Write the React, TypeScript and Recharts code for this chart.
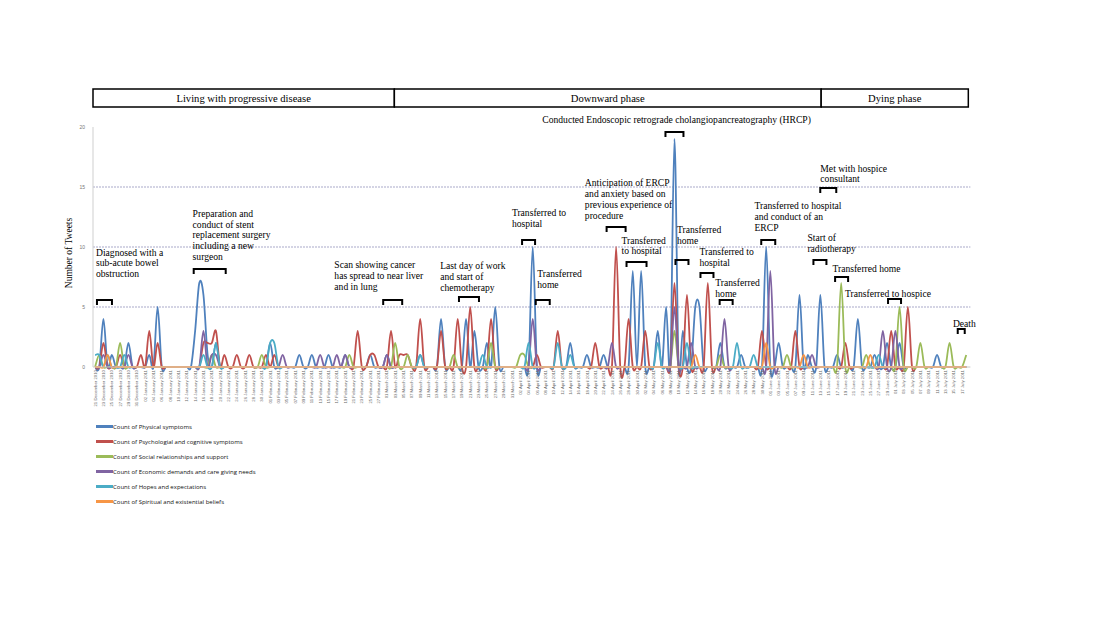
import React from 'react';
import { LineChart, Line, XAxis, YAxis, ReferenceLine, ReferenceArea, ReferenceDot, Legend } from 'recharts';

// ---- categories (one per day) ----
const MONTH_SPANS: [string, number, number, number][] = [
  ['December', 2010, 21, 31],
  ['January', 2011, 1, 31],
  ['February', 2011, 1, 28],
  ['March', 2011, 1, 31],
  ['April', 2011, 1, 30],
  ['May', 2011, 1, 31],
  ['June', 2011, 1, 30],
  ['July', 2011, 1, 18],
];
const DATES: string[] = [];
MONTH_SPANS.forEach(([m, y, a, b]) => {
  for (let d = a; d <= b; d++) DATES.push(`${d < 10 ? '0' + d : d} ${m} ${y}`);
});

// ---- series values: [day index, count]; all other days are 0 ----
const PHYSICAL: [number, number][] = [
  [2, 4], [4, 1], [8, 2], [13, 1], [15, 5], [24, 3], [25, 7], [26, 6], [27, 1], [29, 2], [42, 2], [49, 1], [52, 1],
  [56, 1], [60, 1], [66, 1], [70, 1], [78, 1], [83, 4], [89, 4], [91, 3], [94, 2], [96, 5], [105, 10], [114, 2],
  [118, 1], [122, 1], [129, 8], [131, 8], [135, 3], [137, 5], [139, 19], [141, 3], [144, 5], [145, 5], [150, 2],
  [155, 1], [161, 10], [164, 2], [169, 6], [171, 1], [174, 6], [178, 1], [183, 4], [187, 1], [190, 2], [193, 2], [202, 1],
];
const PSYCHOLOGICAL: [number, number][] = [
  [2, 2], [6, 1], [11, 1], [13, 3], [15, 2], [26, 2], [27, 2], [28, 2], [29, 3], [31, 1], [34, 1], [37, 1], [41, 1],
  [43, 1], [63, 3], [66, 1], [67, 1], [71, 3], [73, 1], [74, 1], [75, 1], [78, 4], [83, 3], [87, 4], [90, 5], [95, 4],
  [106, 1], [111, 3], [120, 2], [125, 10], [128, 4], [132, 3], [139, 7], [142, 6], [147, 7], [160, 3], [168, 3],
  [180, 2], [191, 3], [195, 5],
];
const SOCIAL: [number, number][] = [
  [1, 1], [6, 2], [28, 1], [40, 1], [61, 1], [72, 2], [75, 1], [86, 1], [95, 2], [102, 1], [103, 1], [139, 3],
  [150, 1], [166, 1], [179, 7], [185, 1], [193, 5], [198, 2], [205, 2], [209, 1],
];
const ECONOMIC: [number, number][] = [
  [2, 1], [8, 1], [26, 3], [28, 1], [29, 1], [45, 1], [54, 1], [58, 1], [60, 1], [70, 1], [105, 4], [124, 2],
  [139, 5], [143, 2], [151, 4], [162, 8], [172, 1], [189, 3], [192, 3],
];
const HOPES: [number, number][] = [
  [0, 1], [1, 1], [3, 1], [7, 1], [26, 1], [29, 2], [42, 2], [43, 2], [78, 1], [93, 1], [104, 2], [111, 2],
  [114, 1], [135, 2], [142, 2], [154, 2], [158, 1], [188, 1],
];
const SPIRITUAL: [number, number][] = [[3, 1], [144, 1], [161, 2], [170, 1], [186, 1]];

const SERIES = [
  { key: 'physical', name: 'Count of Physical symptoms', color: '#4F81BD', pairs: PHYSICAL },
  { key: 'psychological', name: 'Count of Psychologial and cognitive symptoms', color: '#C0504D', pairs: PSYCHOLOGICAL },
  { key: 'social', name: 'Count of Social relationships and support', color: '#9BBB59', pairs: SOCIAL },
  { key: 'economic', name: 'Count of Economic demands and care giving needs', color: '#8064A2', pairs: ECONOMIC },
  { key: 'hopes', name: 'Count of Hopes and expectations', color: '#4BACC6', pairs: HOPES },
  { key: 'spiritual', name: 'Count of Spiritual and existential beliefs', color: '#F79646', pairs: SPIRITUAL },
];

const Y_TICKS = [0, 5, 10, 15, 20];
const GRID_VALUES = [5, 10, 15];

const PHASES: { label: string; from: number; to: number }[] = [
  { label: 'Living with progressive disease', from: -0.5, to: 71.8 },
  { label: 'Downward phase', from: 71.8, to: 174.2 },
  { label: 'Dying phase', from: 174.2, to: 209.5 },
];

// event annotations: bracket centre (day, value) and text anchor (day, value)
const EVENTS: { bx: number; by: number; bw: number; tx: number; ty: number; lines: string[] }[] = [
  { bx: 2.25, by: 5.58, bw: 15, tx: 0.22, ty: 9.29, lines: ['Diagnosed with a', 'sub-acute bowel', 'obstruction'] },
  { bx: 27.5, by: 8.17, bw: 32, tx: 23.4, ty: 12.52, lines: ['Preparation and', 'conduct of stent', 'replacement surgery', 'including a new', 'surgeon'] },
  { bx: 71.4, by: 5.58, bw: 19, tx: 57.4, ty: 8.21, lines: ['Scan showing cancer', 'has spread to near liver', 'and in lung'] },
  { bx: 89.7, by: 5.83, bw: 20, tx: 82.8, ty: 8.15, lines: ['Last day of work', 'and start of', 'chemotherapy'] },
  { bx: 104.0, by: 10.58, bw: 13, tx: 100.0, ty: 12.6, lines: ['Transferred to', 'hospital'] },
  { bx: 107.4, by: 5.58, bw: 14, tx: 106.1, ty: 7.46, lines: ['Transferred', 'home'] },
  { bx: 125.0, by: 11.67, bw: 19, tx: 117.5, ty: 15.07, lines: ['Anticipation of ERCP', 'and anxiety based on', 'previous experience of', 'procedure'] },
  { bx: 129.9, by: 8.75, bw: 20, tx: 126.3, ty: 10.29, lines: ['Transferred', 'to hospital'] },
  { bx: 139.0, by: 19.58, bw: 18, tx: 107.3, ty: 20.35, lines: ['Conducted Endoscopic retrograde cholangiopancreatography (HRCP)'] },
  { bx: 140.8, by: 8.92, bw: 13, tx: 139.6, ty: 11.18, lines: ['Transferred', 'home'] },
  { bx: 146.8, by: 7.83, bw: 13, tx: 145.0, ty: 9.32, lines: ['Transferred to', 'hospital'] },
  { bx: 151.4, by: 5.58, bw: 13, tx: 148.8, ty: 6.73, lines: ['Transferred', 'home'] },
  { bx: 161.5, by: 10.58, bw: 14, tx: 158.2, ty: 13.13, lines: ['Transferred to hospital', 'and conduct of an', 'ERCP'] },
  { bx: 175.9, by: 14.92, bw: 16, tx: 174.0, ty: 16.29, lines: ['Met with hospice', 'consultant'] },
  { bx: 173.9, by: 8.92, bw: 13, tx: 170.9, ty: 10.52, lines: ['Start of', 'radiotherapy'] },
  { bx: 179.1, by: 7.5, bw: 13, tx: 176.9, ty: 7.88, lines: ['Transferred home'] },
  { bx: 191.8, by: 5.67, bw: 13, tx: 179.9, ty: 5.85, lines: ['Transferred to hospice'] },
  { bx: 207.8, by: 3.17, bw: 7, tx: 205.8, ty: 3.35, lines: ['Death'] },
];

// ---- table built from the arrays ----
const ROWS = DATES.map((date, i) => {
  const row: Record<string, number | string> = { i, date };
  SERIES.forEach((s) => {
    const hit = s.pairs.find((p) => p[0] === i);
    row[s.key] = hit ? hit[1] : 0;
  });
  return row;
});
const TICK_IDX = DATES.map((_, i) => i).filter((i) => i % 2 === 0);

// Excel-like smoothed line (Catmull-Rom through the points)
const excelCurve = (ctx: any) => {
  let pts: number[][] = [];
  return {
    areaStart() {},
    areaEnd() {},
    lineStart() { pts = []; },
    point(x: number, y: number) { pts.push([+x, +y]); },
    lineEnd() {
      const n = pts.length;
      if (!n) return;
      ctx.moveTo(pts[0][0], pts[0][1]);
      for (let k = 0; k < n - 1; k++) {
        const p0 = pts[Math.max(0, k - 1)];
        const p1 = pts[k];
        const p2 = pts[k + 1];
        const p3 = pts[Math.min(n - 1, k + 2)];
        ctx.bezierCurveTo(
          p1[0] + (p2[0] - p0[0]) / 6, p1[1] + (p2[1] - p0[1]) / 6,
          p2[0] - (p3[0] - p1[0]) / 6, p2[1] - (p3[1] - p1[1]) / 6,
          p2[0], p2[1],
        );
      }
    },
  };
};

const SERIF = '"Liberation Serif", "Times New Roman", serif';

const DateTick = (props: any) => {
  const { x, y, payload } = props;
  return (
    <text transform={`translate(${x + 1.6},${y}) rotate(-90)`} textAnchor="end" fontSize={4.3} fill="#6a6a6a" fontFamily="Liberation Sans, Arial, sans-serif">
      {DATES[payload.value]}
    </text>
  );
};

const Bracket = (w: number) => (props: any) => {
  const { cx, cy } = props;
  const h = w / 2;
  return <path d={`M${cx - h},${cy + 5} V${cy} H${cx + h} V${cy + 5}`} fill="none" stroke="#000" strokeWidth={2} />;
};

const EventText = (lines: string[]) => (props: any) => {
  const { cx, cy } = props;
  return (
    <text x={cx} y={cy} fontSize={9.6} fontFamily={SERIF} fill="#000">
      {lines.map((l, k) => (
        <tspan key={k} x={cx} dy={k === 0 ? 0 : 10.8}>{l}</tspan>
      ))}
    </text>
  );
};

const LegendContent = () => (
  <div>
    {SERIES.map((s) => (
      <div key={s.key} style={{ height: 15, display: 'flex', alignItems: 'center' }}>
        <span style={{ display: 'inline-block', width: 17, height: 2.5, background: s.color }} />
        <span style={{ fontSize: 6, fontFamily: '"Open Sans", sans-serif', color: '#111', whiteSpace: 'nowrap' }}>{s.name}</span>
      </div>
    ))}
  </div>
);

export default function App() {
  return (
    <div style={{ position: 'absolute', left: 0, top: 0, width: 1120, height: 630, background: '#fff' }}>
      <LineChart width={1120} height={630} data={ROWS} margin={{ top: 85, right: 149.6, left: 73, bottom: 213 }}>
        <XAxis
          type="number"
          dataKey="i"
          domain={[-0.5, 209.5]}
          ticks={TICK_IDX}
          interval={0}
          tick={<DateTick />}
          tickLine={false}
          tickSize={0}
          tickMargin={3}
          axisLine={{ stroke: '#c8c8c8' }}
          height={50}
          allowDecimals={false}
        />
        <YAxis
          domain={[0, 23.5]}
          ticks={Y_TICKS}
          width={20}
          axisLine={false}
          tickLine={false}
          tick={{ fontSize: 5, fill: '#777', fontFamily: 'Liberation Sans, Arial, sans-serif' }}
          label={{
            content: () => (
              <text transform="translate(72,253) rotate(-90)" textAnchor="middle" fontSize={9.5} fontFamily={SERIF} fill="#000">
                Number of Tweets
              </text>
            ),
          }}
        />
        {GRID_VALUES.map((v) => (
          <ReferenceLine key={v} y={v} stroke="#a9a9c9" strokeDasharray="2 1" strokeWidth={1} />
        ))}
        <ReferenceLine segment={[{ x: -0.5, y: 0 }, { x: -0.5, y: 20 }]} stroke="#cfcfcf" />
        {PHASES.map((p) => (
          <ReferenceArea
            key={p.label}
            x1={p.from}
            x2={p.to}
            y1={21.67}
            y2={23.17}
            fill="#fff"
            fillOpacity={1}
            stroke="#000"
            strokeWidth={1.5}
            label={{ value: p.label, position: 'center', fill: '#000', fontSize: 10.6, fontFamily: SERIF }}
          />
        ))}
        <Legend
          layout="horizontal"
          verticalAlign="middle"
          align="center"
          content={<LegendContent />}
          wrapperStyle={{ left: 96, top: 419, width: 260, height: 92 }}
        />
        {SERIES.map((s) => (
          <Line
            key={s.key}
            dataKey={s.key}
            name={s.name}
            stroke={s.color}
            strokeWidth={1.8}
            dot={false}
            activeDot={false}
            isAnimationActive={false}
            type={excelCurve as any}
          />
        ))}
        {EVENTS.map((e, k) => (
          <ReferenceDot key={'b' + k} x={e.bx} y={e.by} r={1} shape={Bracket(e.bw)} />
        ))}
        {EVENTS.map((e, k) => (
          <ReferenceDot key={'t' + k} x={e.tx} y={e.ty} r={1} shape={EventText(e.lines)} />
        ))}
      </LineChart>
    </div>
  );
}
